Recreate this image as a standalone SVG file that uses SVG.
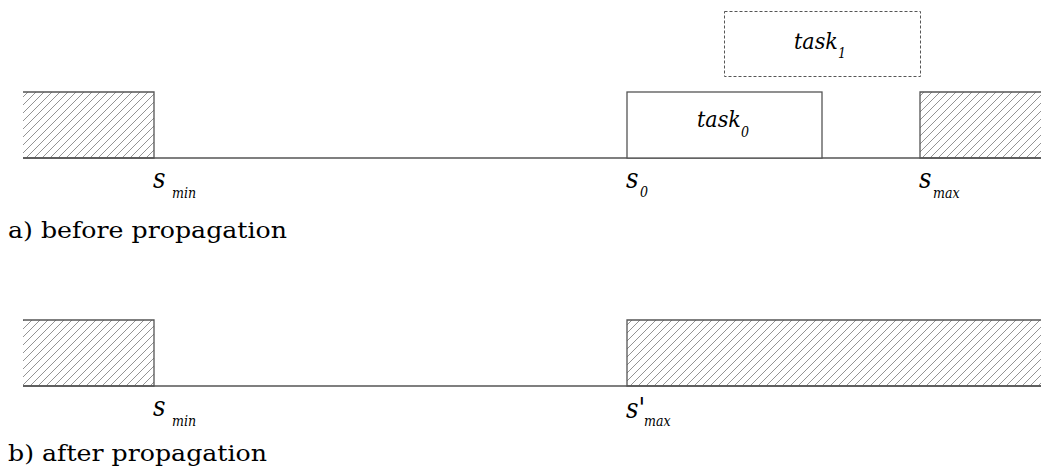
<svg xmlns="http://www.w3.org/2000/svg" width="1041" height="470" viewBox="0 0 1041 470">
<defs>
<pattern id="hatch" patternUnits="userSpaceOnUse" width="8" height="8">
<path d="M-1,1 L1,-1 M0,8 L8,0 M7,9 L9,7" stroke="#666" stroke-width="0.7"/>
</pattern>
</defs>
<style>
.axis{stroke:#555;stroke-width:1.3;fill:none}
.hatch{fill:url(#hatch);stroke:#555;stroke-width:1.3}
.task{fill:#fff;stroke:#555;stroke-width:1.3}
.dash{fill:#fff;stroke:#555;stroke-width:1;stroke-dasharray:3,2}
.it{font-family:"DejaVu Serif Condensed","DejaVu Serif",serif;font-stretch:condensed;font-style:italic;fill:#000}
.big{font-size:23px}
.s{font-size:27px}
.sub{font-size:14px}
.cap{font-family:"DejaVu Serif",serif;font-size:23px;fill:#000}
</style>
<g id="connectors">
<line class="axis" x1="23" y1="158" x2="1041" y2="158"/>
<line class="axis" x1="23" y1="386" x2="1041" y2="386"/>
</g>
<g id="top-left-block"><path class="hatch" d="M23,92 H154 V158 H23"/></g>
<g id="top-right-block"><path class="hatch" d="M1041,92 H920 V158 H1041"/></g>
<g id="task0"><rect class="task" x="627" y="92" width="195" height="66"/>
<text class="it big" x="697" y="127">task</text><text class="it sub" x="741" y="137">0</text></g>
<g id="task1"><rect class="dash" x="724.5" y="11.5" width="196" height="65"/>
<text class="it big" x="794" y="49">task</text><text class="it sub" x="838" y="58">1</text></g>
<g id="labels-a">
<text class="it s" x="153" y="188">s</text><text class="it sub" x="172" y="198">min</text>
<text class="it s" x="626" y="188">s</text><text class="it sub" x="640" y="197">0</text>
<text class="it s" x="919" y="188">s</text><text class="it sub" x="933" y="198">max</text>
<text class="cap" x="8" y="238" textLength="279" lengthAdjust="spacingAndGlyphs">a) before propagation</text>
</g>
<g id="bottom-left-block"><path class="hatch" d="M23,320 H154 V386 H23"/></g>
<g id="bottom-right-block"><path class="hatch" d="M1041,320 H627 V386 H1041"/></g>
<g id="labels-b">
<text class="it s" x="153" y="416">s</text><text class="it sub" x="172" y="426">min</text>
<text class="it s" x="626" y="418">s'</text><text class="it sub" x="644" y="426">max</text>
<text class="cap" x="8" y="461" textLength="259" lengthAdjust="spacingAndGlyphs">b) after propagation</text>
</g>
</svg>
